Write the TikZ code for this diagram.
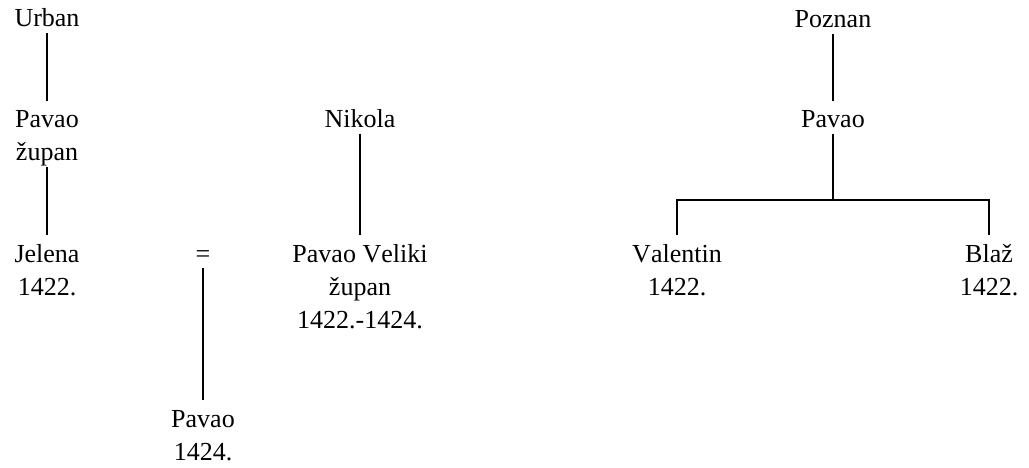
\documentclass[tikz,border=0pt]{standalone}
\usepackage{fontspec}
\setmainfont[Kerning=Off]{Liberation Serif}
\newcommand\Tstr{\rule{0pt}{27pt}}
\newcommand\Bstr{\rule[-6pt]{0pt}{6pt}}
\begin{document}
\begin{tikzpicture}[x=1pt,y=-1pt,
  person/.style={anchor=north,inner sep=0pt,outer sep=0pt,align=center,
    font=\fontsize{26}{33}\selectfont},
  link/.style={line width=1.3pt,black}]
\useasboundingbox (0,0) rectangle (1029,468);
% left family
\node[person] (urban) at (47,0) {\Tstr Urban\Bstr};
\node[person] (pav1) at (47,101) {\Tstr Pavao\\župan\Bstr};
\node[person] (jel) at (47,235) {\Tstr Jelena\\1422.\Bstr};
\node[person] (eq) at (203,235) {\Tstr =\Bstr};
\node[person] (pav4) at (203,400) {\Tstr Pavao\\1424.\Bstr};
\node[person] (nik) at (360,101) {\Tstr Nikola\Bstr};
\node[person] (pvel) at (360,235) {\Tstr Pavao Veliki\\župan\\1422.-1424.\Bstr};
% right family
\node[person] (poz) at (833,1) {\Tstr Poznan\Bstr};
\node[person] (pav3) at (833,101) {\Tstr Pavao\Bstr};
\node[person] (val) at (677,235) {\Tstr Valentin\\1422.\Bstr};
\node[person] (blaz) at (989,235) {\Tstr Blaž\\1422.\Bstr};
\coordinate (fork) at (833,200);
% connectors
\draw[link] (urban.south) -- (pav1.north);
\draw[link] (pav1.south) -- (jel.north);
\draw[link] (eq.south) -- (pav4.north);
\draw[link] (nik.south) -- (pvel.north);
\draw[link] (poz.south) -- (pav3.north);
\draw[link] (pav3.south) -- (fork);
\draw[link] (val.north) |- (fork) -| (blaz.north);
\end{tikzpicture}
\end{document}
